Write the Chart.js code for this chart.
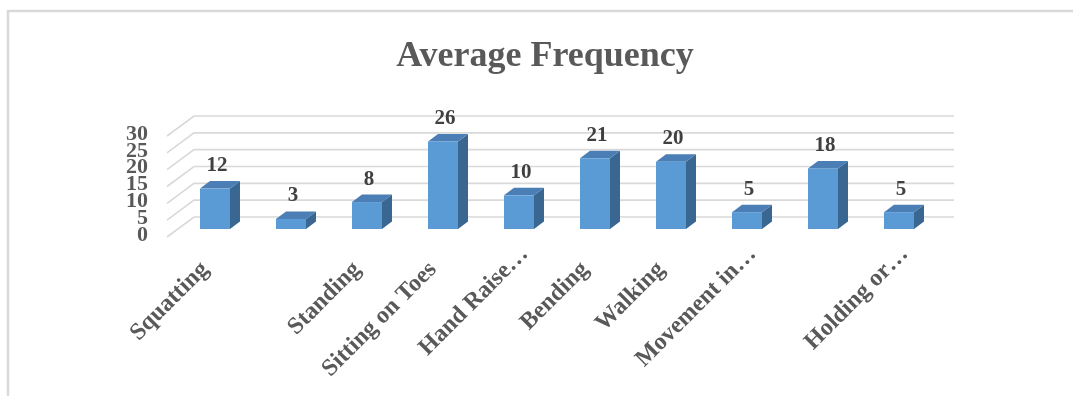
<!DOCTYPE html>
<html>
<head>
<meta charset="utf-8">
<script src="https://cdn.jsdelivr.net/npm/chart.js@4.4.1/dist/chart.umd.min.js"></script>
<style>
  html, body { margin: 0; padding: 0; background: #ffffff; }
  #wrap { position: relative; width: 1073px; height: 396px; overflow: hidden; }
  canvas { display: block; }
</style>
</head>
<body>
<div id="wrap"><canvas id="chart" width="1073" height="396"></canvas></div>
<script>
// Activity categories (two of them carry no printed name on the axis)
const categories = [
  'Squatting', '', 'Standing', 'Sitting on Toes', 'Hand Raise…',
  'Bending', 'Walking', 'Movement in…', '', 'Holding or…'
];
// Average frequency per activity
const averageFrequency = [12, 3, 8, 26, 10, 21, 20, 5, 18, 5];
// Value axis ticks
const yTickValues = [0, 5, 10, 15, 20, 25, 30];
const yTickLabels = ['0', '5', '10', '15', '20', '25', '30'];
const chartTitle = 'Average Frequency';

// 3D look: depth of the whole plot box and of a single column
const WALL = { dx: 27, dy: -20 };
const COL_OFFSET = { dx: 10, dy: -8 };
const COL_DEPTH = { dx: 10, dy: -7.5 };
const COLORS = {
  front: '#5B9BD5', top: '#4A7EB4', side: '#3A6792',
  grid: '#D9D9D9', axisText: '#595959', valueText: '#404040', frame: '#D9D9D9'
};
const SERIF = '"Liberation Serif", "Times New Roman", serif';

const plot3d = {
  id: 'plot3d',
  beforeDraw(chart) {
    const ctx = chart.ctx;
    const y = chart.scales.y;
    const area = chart.chartArea;
    ctx.save();
    // outer frame
    ctx.strokeStyle = COLORS.frame;
    ctx.lineWidth = 2.5;
    ctx.strokeRect(8, 11, 1200, 600);

    // title
    ctx.fillStyle = COLORS.axisText;
    ctx.font = 'bold 36px ' + SERIF;
    ctx.textAlign = 'center';
    ctx.textBaseline = 'alphabetic';
    ctx.fillText(chartTitle, 545, 66);

    // side wall and back wall gridlines
    ctx.strokeStyle = COLORS.grid;
    ctx.lineWidth = 1.6;
    yTickValues.forEach(v => {
      const py = y.getPixelForValue(v);
      ctx.beginPath();
      ctx.moveTo(area.left, py);
      ctx.lineTo(area.left + WALL.dx, py + WALL.dy);
      ctx.lineTo(area.right + WALL.dx, py + WALL.dy);
      ctx.stroke();
    });

    // value axis labels
    ctx.fillStyle = COLORS.axisText;
    ctx.font = 'bold 22px ' + SERIF;
    ctx.textAlign = 'right';
    ctx.textBaseline = 'middle';
    yTickValues.forEach((v, i) => {
      ctx.fillText(yTickLabels[i], 148, y.getPixelForValue(v) - 2);
    });

    // category labels, rotated
    const x = chart.scales.x;
    ctx.font = 'bold 24px ' + SERIF;
    categories.forEach((label, i) => {
      if (!label) return;
      const tx = x.getPixelForValue(i);
      const extra = label.endsWith('…') ? 22 : 0;
      ctx.save();
      ctx.translate(tx + extra * 0.707, 266 - extra * 0.707);
      ctx.rotate(-Math.PI / 4);
      ctx.textAlign = 'right';
      ctx.textBaseline = 'middle';
      ctx.fillText(label, 0, 0);
      ctx.restore();
    });
    ctx.restore();
  },
  afterDatasetsDraw(chart) {
    const ctx = chart.ctx;
    const meta = chart.getDatasetMeta(0);
    ctx.save();
    meta.data.forEach((el, i) => {
      const w = el.width;
      const l = el.x - w / 2 + COL_OFFSET.dx;
      const r = l + w;
      const t = el.y + COL_OFFSET.dy;
      const b = el.base + COL_OFFSET.dy;
      // side face
      ctx.fillStyle = COLORS.side;
      ctx.beginPath();
      ctx.moveTo(r, t);
      ctx.lineTo(r + COL_DEPTH.dx, t + COL_DEPTH.dy);
      ctx.lineTo(r + COL_DEPTH.dx, b + COL_DEPTH.dy);
      ctx.lineTo(r, b);
      ctx.closePath();
      ctx.fill();
      // top face
      ctx.fillStyle = COLORS.top;
      ctx.beginPath();
      ctx.moveTo(l, t);
      ctx.lineTo(l + COL_DEPTH.dx, t + COL_DEPTH.dy);
      ctx.lineTo(r + COL_DEPTH.dx, t + COL_DEPTH.dy);
      ctx.lineTo(r, t);
      ctx.closePath();
      ctx.fill();
      // front face
      ctx.fillStyle = COLORS.front;
      ctx.fillRect(l, t, w, b - t);
      // value label
      ctx.fillStyle = COLORS.valueText;
      ctx.font = 'bold 21px ' + SERIF;
      ctx.textAlign = 'center';
      ctx.textBaseline = 'alphabetic';
      ctx.fillText(String(averageFrequency[i]), (l + r) / 2 + 2, t + COL_DEPTH.dy - 10);
    });
    ctx.restore();
  }
};

new Chart(document.getElementById('chart'), {
  type: 'bar',
  data: {
    labels: categories,
    datasets: [{
      label: chartTitle,
      data: averageFrequency,
      backgroundColor: 'rgba(0,0,0,0)',
      borderWidth: 0,
      barThickness: 30
    }]
  },
  options: {
    responsive: false,
    animation: false,
    events: [],
    layout: { padding: { left: 167, right: 146, top: 136, bottom: 159 } },
    plugins: { legend: { display: false }, tooltip: { enabled: false }, title: { display: false } },
    scales: {
      x: { display: false, offset: true, grid: { display: false } },
      y: { display: false, min: 0, max: 30, ticks: { stepSize: 5 }, grid: { display: false } }
    }
  },
  plugins: [plot3d]
});
</script>
</body>
</html>
